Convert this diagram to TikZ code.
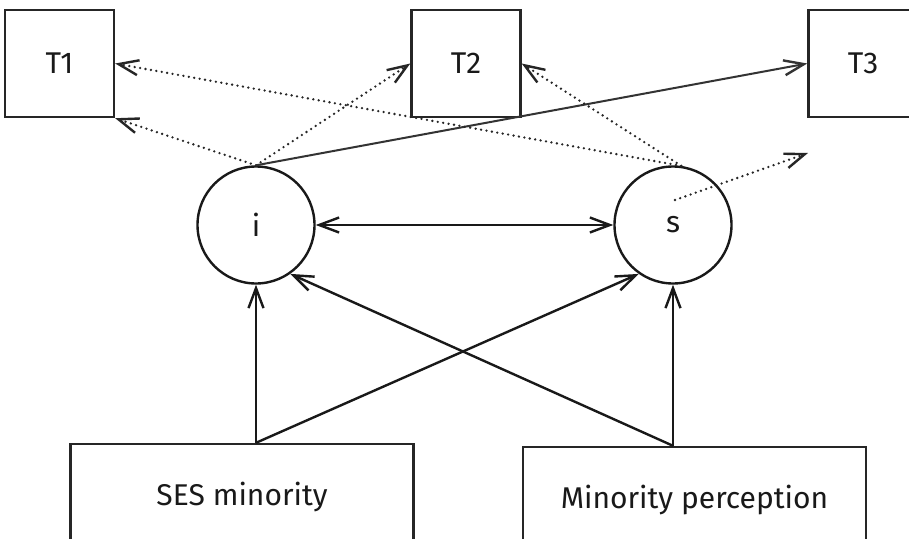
\documentclass[tikz,border=0pt]{standalone}
\usepackage{fontspec}
\setmainfont{Fira Sans}
\usetikzlibrary{arrows.meta,calc}
\begin{document}
\begin{tikzpicture}[x=1pt,y=-1pt,
  box/.style={draw=black!85, line width=2.4pt, inner sep=0pt, font=\fontsize{30}{36}\selectfont, text=black!90},
  tbox/.style={box, minimum width=109pt, minimum height=107pt},
  bbox/.style={box, minimum width=343pt, minimum height=106pt},
  lat/.style={draw=black!90, circle, line width=2.4pt, minimum size=117pt, inner sep=0pt, font=\fontsize{30}{36}\selectfont, text=black!90},
  tip/.style={-{Straight Barb[length=20pt,width=15pt,line width=2.4pt]}},
  solidarr/.style={tip, line width=2.4pt, draw=black!90},
  dotarr/.style={tip, line width=2.6pt, line cap=round, dash pattern=on 0pt off 5.5pt, draw=black!85},
  thinarr/.style={tip, line width=2pt, draw=black!80},
  dbl/.style={{Straight Barb[length=20pt,width=15pt,line width=2.4pt]}-{Straight Barb[length=20pt,width=15pt,line width=2.4pt]}, line width=2.4pt, draw=black!90}
]
\useasboundingbox (0,0) rectangle (909,538);
\clip (0,0) rectangle (909,538);
\fill[white] (0,0) rectangle (909,538);

\node[tbox] (T1) at (59.5,63.5) {T1};
\node[tbox] (T2) at (466,63.5) {T2};
\node[tbox] (T3) at (863,63.5) {T3};

\node[lat] (i) at (256,225) {i};
\node[lat] (s) at (673,225) {s};

\node[bbox] (SES) at (242,497) {SES minority};
\node[bbox] (MP) at (694.5,500) {Minority perception};

\coordinate (sres) at (808,153);
\coordinate (sin) at ($(s.center)+(2,-25)$);

% structural paths
\draw[solidarr] (i |- SES.north) -- (i.south);
\draw[solidarr] (i |- SES.north) -- (s.235);
\draw[solidarr] (s |- MP.north) -- (s.south);
\draw[solidarr] (s |- MP.north) -- (i.-55);
\draw[dbl] (i.east) -- (s.west);

% loadings
\draw[dotarr] (i.north) -- (T1.south east);
\draw[dotarr] (i.north) -- (T2.west);
\draw[thinarr] (i.north) -- (T3.west);
\draw[dotarr] (s.82) -- (T1.east);
\draw[dotarr] (s.82) -- (T2.east);
\draw[dotarr] (sin) -- (sres);
\end{tikzpicture}
\end{document}
